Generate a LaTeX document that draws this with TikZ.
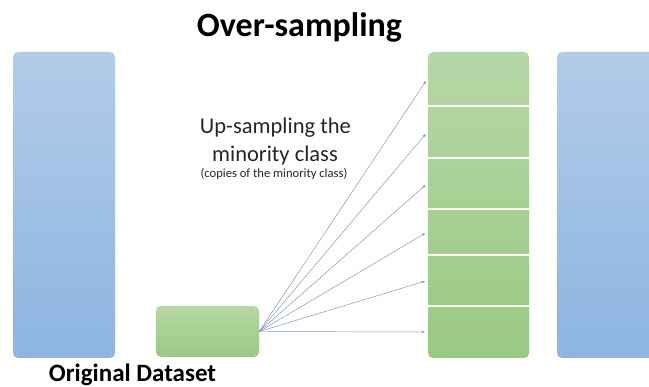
\documentclass[tikz,border=0pt]{standalone}
\usepackage{fontspec}
\setmainfont{Carlito}
\usetikzlibrary{arrows.meta, positioning}
\definecolor{barblue}{RGB}{178,204,232}
\definecolor{barbluedark}{RGB}{141,180,226}
\definecolor{boxgreen}{RGB}{182,215,166}
\definecolor{boxgreendark}{RGB}{154,201,131}
\definecolor{linkblue}{RGB}{120,146,192}
\definecolor{textdark}{RGB}{38,38,38}

\begin{document}
\begin{tikzpicture}[x=1pt, y=-1pt,
  bluebar/.style={rounded corners=5pt, top color=barblue, bottom color=barbluedark,
                  inner sep=0pt, minimum width=102pt, minimum height=306pt},
  greenbox/.style={rounded corners=5pt, top color=boxgreen, bottom color=boxgreendark,
                   inner sep=0pt},
  segment/.style={inner sep=0pt, minimum width=102pt},
  link/.style={linkblue, line width=0.45pt, shorten >=2.5pt,
               -{Stealth[length=3.5pt, width=2.6pt]}}]
  \useasboundingbox (0,0) rectangle (649,387);

  % Title
  \node[font=\bfseries\fontsize{34}{40}\selectfont, anchor=base] (title) at (299.5,37) {Over-sampling};

  % Original dataset (left)
  \node[bluebar] (original) at (64,205) {};
  \node[font=\bfseries\fontsize{25}{30}\selectfont, anchor=base] (origlabel) at (132.5,382) {Original Dataset};

  % Minority class
  \node[greenbox, minimum width=103pt, minimum height=51pt] (minority) at (207.5,331.5) {};

  % Copies of the minority class
  \node[greenbox, minimum width=101pt, minimum height=306pt] (column) at (478.5,205) {};
  \foreach \i/\top/\bot in {1/52/106, 2/106/158, 3/158/209, 4/209/255, 5/255/306, 6/306/358}
    \node[segment, minimum height=\bot pt-\top pt] (seg\i) at (478.5,{(\top+\bot)/2}) {};
  \foreach \i in {1,...,5}
    \draw[white, line width=1.8pt] (seg\i.south west) -- (seg\i.south east);

  % Over-sampled dataset (right)
  \node[bluebar] (resampled) at (608,205) {};

  % Up-sampling arrows
  \foreach \i in {1,...,6}
    \draw[link] (minority.east) -- (seg\i.west);

  \node[textdark, font=\fontsize{22.5}{27}\selectfont, anchor=base] (uptext) at (275.4,134) {Up-sampling the};
  \node[textdark, font=\fontsize{22.5}{27}\selectfont, anchor=base] (minortext) at (275,161.5) {minority class};
  \node[textdark, font=\fontsize{12.6}{15}\selectfont, anchor=base] (copiestext) at (274,177.5) {(copies of the minority class)};
\end{tikzpicture}
\end{document}
